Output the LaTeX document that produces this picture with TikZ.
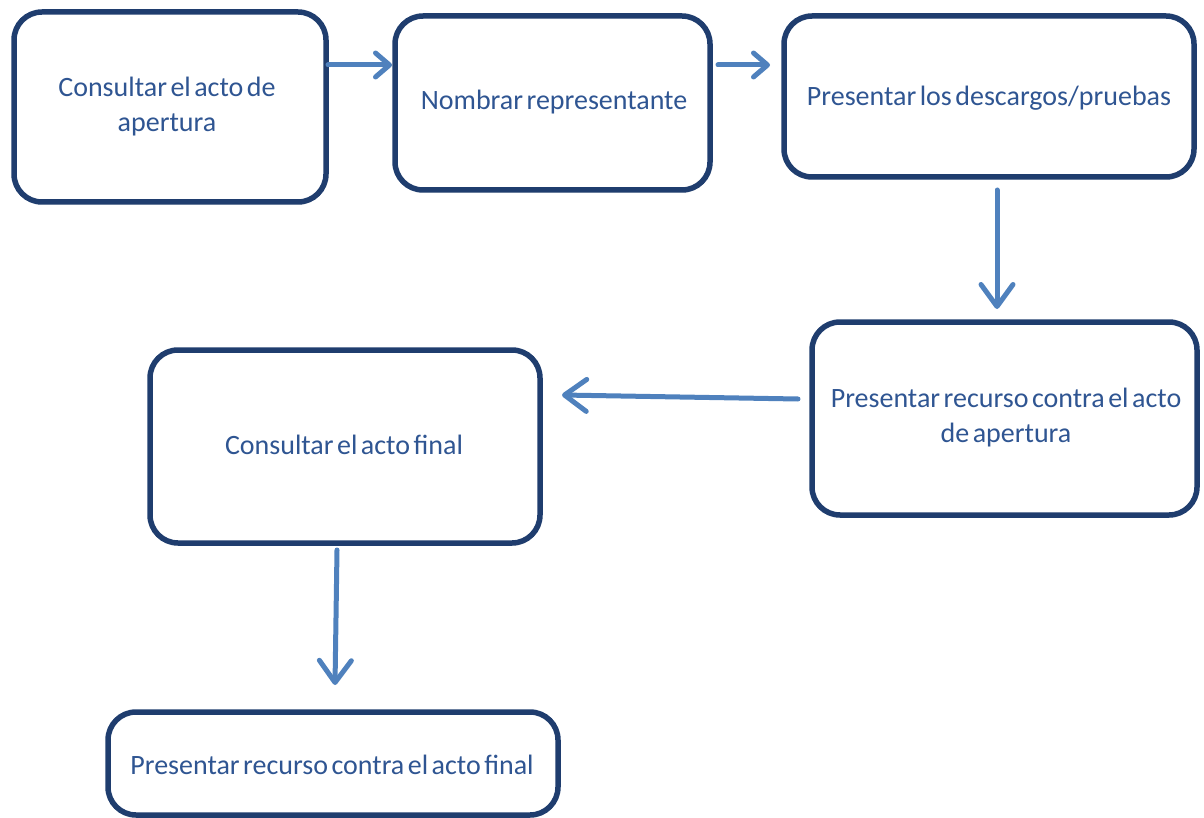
\documentclass[tikz,border=0pt]{standalone}
\usepackage{fontspec}
\setmainfont{Carlito}[WordSpace=0.55]
\usetikzlibrary{arrows.meta,shadows,positioning}
\definecolor{boxline}{HTML}{1F3D6E}
\definecolor{txt}{HTML}{2F5592}
\definecolor{arr}{HTML}{4F81BD}
\begin{document}
\begin{tikzpicture}[x=1pt,y=-1pt,
  stepbox/.style={draw=boxline,line width=5.5pt,fill=white,rounded corners=28pt,
     drop shadow={opacity=0.25,shadow xshift=1pt,shadow yshift=-2.5pt}},
  lbl/.style={text=txt,font=\fontsize{28}{35}\selectfont,align=center},
  conn/.style={draw=arr,line width=5pt,line cap=round},
  big/.style={-{Straight Barb[length=22pt,width=32pt,line width=5pt,round]}},
  small/.style={-{Straight Barb[length=14pt,width=24pt,line width=5pt,round]}}]
\useasboundingbox (0,0) rectangle (1204,818);
% boxes
\path[stepbox] (14,12) rectangle (326,202);
\node[lbl] (t1) at (167,107) {Consultar el acto de\\apertura};
\coordinate (b1e) at (328,65);
\path[stepbox] (395,16) rectangle (710,190);
\node[lbl] (t2) at (554,102) {Nombrar representante};
\coordinate (b2w) at (392,65);
\coordinate (b2e) at (718,65);
\path[stepbox] (784,16) rectangle (1194,177);
\node[lbl] (t3) at (989,98) {Presentar los descargos/pruebas};
\coordinate (b3w) at (770,65);
\coordinate (b3s) at (997,190);
\path[stepbox] (812,322) rectangle (1197,515);
\node[lbl] (t4) at (1006,418) {Presentar recurso contra el acto\\de apertura};
\coordinate (b4n) at (997,309);
\coordinate (b4w) at (798,399);
\path[stepbox] (150,350) rectangle (540,543);
\node[lbl] (t5) at (344,445) {Consultar el acto final};
\coordinate (b5e) at (562,395);
\coordinate (b5s) at (337,550);
\path[stepbox] (108,712) rectangle (558,815);
\node[lbl] (t6) at (332,765) {Presentar recurso contra el acto final};
\coordinate (b6n) at (335,685);
% connectors
\draw[conn,small] (b1e) -- (b2w);
\draw[conn,small] (b2e) -- (b3w);
\draw[conn,big] (b3s) -- (b4n);
\draw[conn,big] (b4w) -- (b5e);
\draw[conn,big] (b5s) -- (b6n);
\end{tikzpicture}
\end{document}
